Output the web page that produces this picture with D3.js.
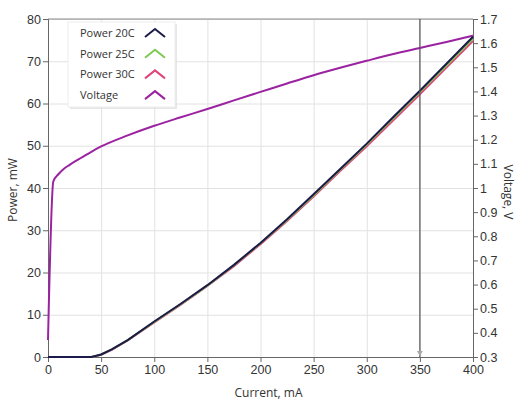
<!DOCTYPE html>
<html>
<head>
<meta charset="utf-8">
<script src="https://cdn.jsdelivr.net/npm/d3@7"></script>
<style>
  body { margin: 0; background: #fff; }
  svg { font-family: "Open Sans", "Noto Sans", sans-serif; }
  .axis text { fill: #333; font-size: 12.5px; }
  .axis path, .axis line { stroke: #666; }
  .grid line { stroke: #e2e2e2; }
  .grid path { display: none; }
</style>
</head>
<body>
<svg></svg>
<script>
///////////////////////////////////////////
// Data
var currentPower = [0, 20, 41, 50, 60, 75, 100, 125, 150, 175, 200, 225, 250, 275, 300, 325, 350, 375, 400];
var power20C     = [0, 0, 0, 0.6, 1.8, 4.0, 8.4, 12.6, 17.0, 21.8, 27.0, 32.6, 38.5, 44.5, 50.5, 56.8, 63.0, 69.4, 75.8];
var power25C     = [0, 0, 0, 0.6, 1.8, 4.0, 8.3, 12.5, 16.9, 21.7, 26.9, 32.4, 38.3, 44.3, 50.3, 56.5, 62.7, 69.0, 75.4];
var power30C     = [0, 0, 0, 0.5, 1.7, 3.9, 8.2, 12.4, 16.8, 21.5, 26.7, 32.2, 38.0, 44.0, 49.9, 56.0, 62.2, 68.5, 74.8];

var currentVolt  = [0, 5, 10, 15, 20, 30, 40, 50, 75, 100, 125, 150, 175, 200, 225, 250, 275, 300, 325, 350, 375, 400];
var voltage      = [0.37, 1.027, 1.058, 1.08, 1.095, 1.122, 1.148, 1.172, 1.218, 1.258, 1.293, 1.327, 1.363, 1.398, 1.433, 1.467, 1.498, 1.527, 1.555, 1.58, 1.605, 1.631];

var seriesNames  = ["Power 20C", "Power 25C", "Power 30C", "Voltage"];
var seriesColors = ["#1b1a4a", "#7ec850", "#e0457b", "#9b22a0"];

var xTicks = [0, 50, 100, 150, 200, 250, 300, 350, 400];
var yLeftTicks = [0, 10, 20, 30, 40, 50, 60, 70, 80];
var yRightTicks = [0.3, 0.4, 0.5, 0.6, 0.7, 0.8, 0.9, 1, 1.1, 1.2, 1.3, 1.4, 1.5, 1.6, 1.7];
var cursorAt = 350;

///////////////////////////////////////////
// Layout Setting
var svgWidth = 529,
    svgHeight = 414;
var margin = {top: 19, right: 56, bottom: 57, left: 48},
    width = svgWidth - margin.left - margin.right,
    height = svgHeight - margin.top - margin.bottom;

var svg = d3.select("svg").attr("width", svgWidth).attr("height", svgHeight);
var g = svg.append("g").attr("transform", "translate(" + [margin.left, margin.top] + ")");

var x = d3.scaleLinear().domain([0, 400]).range([0, width]);
var yL = d3.scaleLinear().domain([0, 80]).range([height, 0]);
var yR = d3.scaleLinear().domain([0.3, 1.7]).range([height, 0]);

// grid
g.append("g").classed("grid", true)
  .attr("transform", "translate(0," + height + ")")
  .call(d3.axisBottom(x).tickValues(xTicks).tickSize(-height).tickFormat(""));
g.append("g").classed("grid", true)
  .call(d3.axisLeft(yL).tickValues(yLeftTicks).tickSize(-width).tickFormat(""));

// frame top
g.append("line").attr("x1", 0).attr("x2", width).attr("y1", 0).attr("y2", 0)
  .attr("stroke", "#888");

// axes
g.append("g").classed("axis", true)
  .attr("transform", "translate(0," + height + ")")
  .call(d3.axisBottom(x).tickValues(xTicks).tickSizeOuter(0).tickSize(5).tickPadding(3));
g.append("g").classed("axis", true)
  .call(d3.axisLeft(yL).tickValues(yLeftTicks).tickSizeOuter(0).tickSize(5).tickPadding(2));
g.append("g").classed("axis", true)
  .attr("transform", "translate(" + width + ",0)")
  .call(d3.axisRight(yR).tickValues(yRightTicks).tickSizeOuter(0).tickSize(5).tickPadding(2)
    .tickFormat(function(d){ return d3.format("~g")(d); }));

// axis titles
svg.append("text").text("Current, mA")
  .attr("x", margin.left + x(200) + 8).attr("y", 397)
  .attr("text-anchor", "middle").style("font-size", "12px").attr("fill", "#333");
svg.append("text").text("Power, mW")
  .attr("transform", "translate(17,190) rotate(-90)")
  .attr("text-anchor", "middle").style("font-size", "12px").attr("fill", "#333");
svg.append("text").text("Voltage, V")
  .attr("transform", "translate(504,192) rotate(90)")
  .attr("text-anchor", "middle").style("font-size", "12px").attr("fill", "#333");

// lines
var linePow = function(ys) {
  return d3.line().x(function(d, i){ return x(currentPower[i]); })
                  .y(function(d){ return yL(d); })(ys);
};
var lineVolt = d3.line().curve(d3.curveMonotoneX)
                        .x(function(d, i){ return x(currentVolt[i]); })
                        .y(function(d){ return yR(d); });

g.append("path").attr("d", lineVolt(voltage))
  .attr("fill", "none").attr("stroke", seriesColors[3]).attr("stroke-width", 2);
[[power30C, 2], [power25C, 1], [power20C, 0]].forEach(function(s) {
  g.append("path").attr("d", linePow(s[0]))
    .attr("fill", "none").attr("stroke", seriesColors[s[1]]).attr("stroke-width", 2);
});

// cursor line
g.append("line").attr("x1", x(cursorAt)).attr("x2", x(cursorAt))
  .attr("y1", 0).attr("y2", height).attr("stroke", "#555").attr("stroke-width", 1.2);
g.append("path")
  .attr("d", "M" + (x(cursorAt) - 3) + "," + (height - 6) + "L" + (x(cursorAt) + 3) + "," + (height - 6) + "L" + x(cursorAt) + "," + (height - 1) + "Z")
  .attr("fill", "#aaa");

// legend
var legend = svg.append("g").attr("transform", "translate(68,22)");
legend.append("rect").attr("x", 2).attr("y", 2).attr("width", 107).attr("height", 85)
  .attr("fill", "#ddd").attr("opacity", 0.7);
legend.append("rect").attr("width", 107).attr("height", 85)
  .attr("fill", "#fff").attr("stroke", "#eee");
seriesNames.forEach(function(name, i) {
  var cy = 11 + i * 20.7;
  legend.append("text").text(name).attr("x", 12).attr("y", cy + 4)
    .style("font-size", "11px").attr("fill", "#333");
  legend.append("path")
    .attr("d", "M77," + (cy + 4) + "L87," + (cy - 4) + "L97," + (cy + 4))
    .attr("fill", "none").attr("stroke", seriesColors[i]).attr("stroke-width", 2);
});
</script>
</body>
</html>
